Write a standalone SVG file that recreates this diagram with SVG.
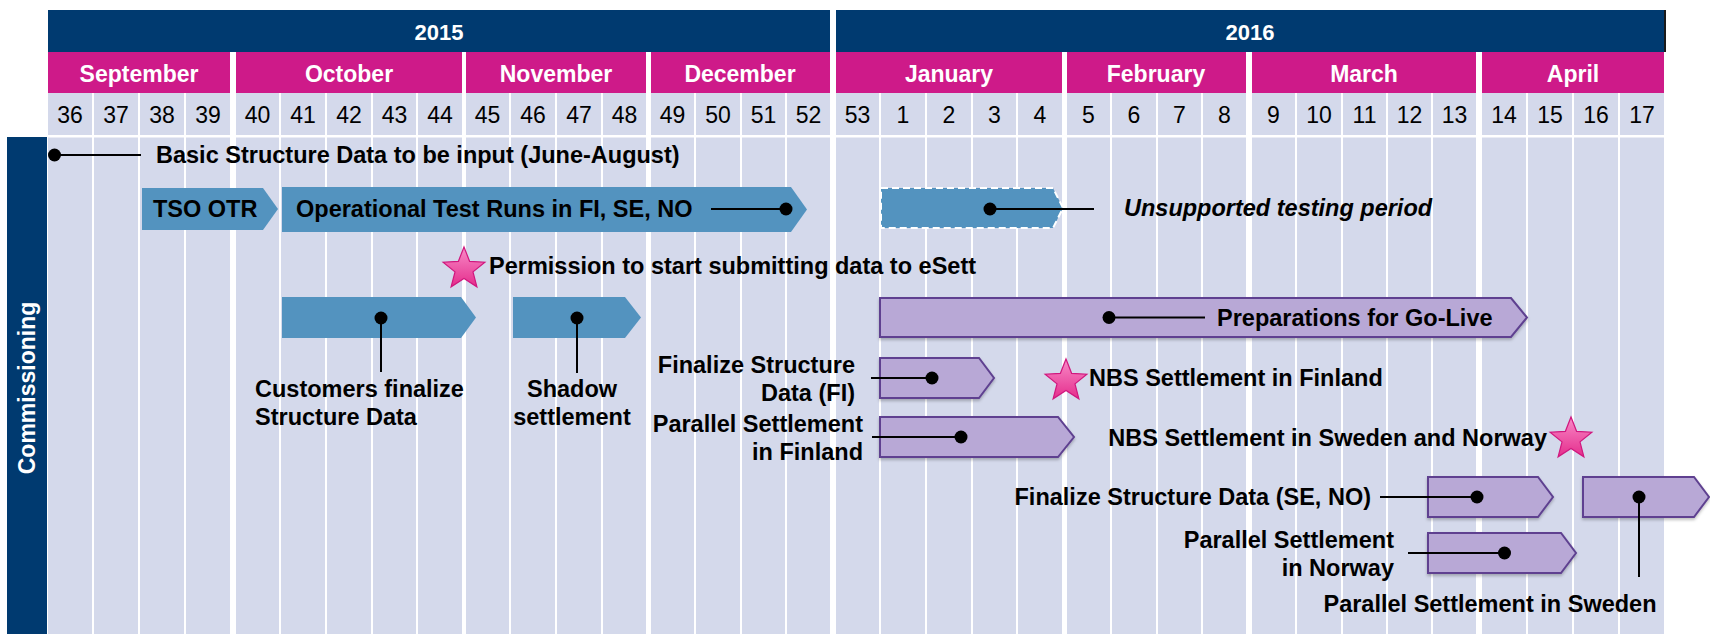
<svg xmlns="http://www.w3.org/2000/svg" width="1710" height="634" viewBox="0 0 1710 634">
<style>
.yr{fill:#003A70}
.mo{fill:#CE1A89}
.col{fill:#D4D9EB}
.yt{font-family:"Liberation Sans",Arial,sans-serif;font-weight:bold;font-size:22px;fill:#fff;text-anchor:middle}
.mt{font-family:"Liberation Sans",Arial,sans-serif;font-weight:bold;font-size:23px;fill:#fff;text-anchor:middle}
.wt{font-family:"Liberation Sans",Arial,sans-serif;font-size:23px;fill:#000;text-anchor:middle}
.lb{font-family:"Liberation Sans",Arial,sans-serif;font-weight:bold;font-size:23.5px;fill:#000}
.end{text-anchor:end}
.mid{text-anchor:middle}
.blue{fill:#5393BF}
.purple{fill:#B8A8D6;stroke:#5E4190;stroke-width:2;filter:url(#sh)}
.ln{stroke:#000;stroke-width:2;fill:none}
.dot{fill:#000}
</style>
<defs>
<linearGradient id="sg" x1="0" y1="0" x2="0" y2="1">
<stop offset="0" stop-color="#F88BC8"/>
<stop offset="1" stop-color="#E52D8C"/>
</linearGradient>
<path id="star" d="M0,-22 L5.6,-7.7 L20.9,-6.8 L9,2.9 L12.9,17.8 L0,9.5 L-12.9,17.8 L-9,2.9 L-20.9,-6.8 L-5.6,-7.7 Z" fill="url(#sg)" stroke="#D0177E" stroke-width="1.2"/>
<filter id="sh" x="-5%" y="-20%" width="110%" height="150%">
<feDropShadow dx="0" dy="2" stdDeviation="1.5" flood-color="#000" flood-opacity="0.25"/>
</filter>
</defs>
<rect width="1710" height="634" fill="#fff"/>
<g id="header">
<rect class="yr" x="48" y="10" width="782" height="42"/>
<rect class="yr" x="836" y="10" width="828" height="42"/>
<rect x="1664" y="10" width="2" height="42" fill="#1a1a1a"/>
<text class="yt" x="439" y="40">2015</text>
<text class="yt" x="1250" y="40">2016</text>
<rect class="mo" x="48" y="52" width="182" height="41"/>
<rect class="mo" x="236" y="52" width="226" height="41"/>
<rect class="mo" x="466" y="52" width="180" height="41"/>
<rect class="mo" x="651" y="52" width="179" height="41"/>
<rect class="mo" x="836" y="52" width="226" height="41"/>
<rect class="mo" x="1067" y="52" width="179" height="41"/>
<rect class="mo" x="1252" y="52" width="224" height="41"/>
<rect class="mo" x="1482" y="52" width="182" height="41"/>
<text class="mt" x="139" y="82">September</text>
<text class="mt" x="349" y="82">October</text>
<text class="mt" x="556" y="82">November</text>
<text class="mt" x="740" y="82">December</text>
<text class="mt" x="949" y="82">January</text>
<text class="mt" x="1156" y="82">February</text>
<text class="mt" x="1364" y="82">March</text>
<text class="mt" x="1573" y="82">April</text>
</g>
<g id="grid">
<rect class="col" x="48" y="93" width="44" height="541"/>
<rect class="col" x="94" y="93" width="44" height="541"/>
<rect class="col" x="140" y="93" width="44" height="541"/>
<rect class="col" x="186" y="93" width="44" height="541"/>
<rect class="col" x="236" y="93" width="43" height="541"/>
<rect class="col" x="281" y="93" width="44" height="541"/>
<rect class="col" x="327" y="93" width="44" height="541"/>
<rect class="col" x="373" y="93" width="43" height="541"/>
<rect class="col" x="418" y="93" width="44" height="541"/>
<rect class="col" x="466" y="93" width="43" height="541"/>
<rect class="col" x="511" y="93" width="44" height="541"/>
<rect class="col" x="557" y="93" width="44" height="541"/>
<rect class="col" x="603" y="93" width="43" height="541"/>
<rect class="col" x="651" y="93" width="43" height="541"/>
<rect class="col" x="696" y="93" width="44" height="541"/>
<rect class="col" x="742" y="93" width="43" height="541"/>
<rect class="col" x="787" y="93" width="43" height="541"/>
<rect class="col" x="836" y="93" width="43" height="541"/>
<rect class="col" x="881" y="93" width="44" height="541"/>
<rect class="col" x="927" y="93" width="44" height="541"/>
<rect class="col" x="973" y="93" width="43" height="541"/>
<rect class="col" x="1018" y="93" width="44" height="541"/>
<rect class="col" x="1067" y="93" width="43" height="541"/>
<rect class="col" x="1112" y="93" width="44" height="541"/>
<rect class="col" x="1158" y="93" width="43" height="541"/>
<rect class="col" x="1203" y="93" width="43" height="541"/>
<rect class="col" x="1252" y="93" width="43" height="541"/>
<rect class="col" x="1297" y="93" width="44" height="541"/>
<rect class="col" x="1343" y="93" width="43" height="541"/>
<rect class="col" x="1388" y="93" width="43" height="541"/>
<rect class="col" x="1433" y="93" width="43" height="541"/>
<rect class="col" x="1482" y="93" width="44" height="541"/>
<rect class="col" x="1528" y="93" width="44" height="541"/>
<rect class="col" x="1574" y="93" width="44" height="541"/>
<rect class="col" x="1620" y="93" width="44" height="541"/>
<rect x="48" y="135" width="1616" height="2.5" fill="#fff"/>
<text class="wt" x="70" y="123">36</text>
<text class="wt" x="116" y="123">37</text>
<text class="wt" x="162" y="123">38</text>
<text class="wt" x="208" y="123">39</text>
<text class="wt" x="257.5" y="123">40</text>
<text class="wt" x="303" y="123">41</text>
<text class="wt" x="349" y="123">42</text>
<text class="wt" x="394.5" y="123">43</text>
<text class="wt" x="440" y="123">44</text>
<text class="wt" x="487.5" y="123">45</text>
<text class="wt" x="533" y="123">46</text>
<text class="wt" x="579" y="123">47</text>
<text class="wt" x="624.5" y="123">48</text>
<text class="wt" x="672.5" y="123">49</text>
<text class="wt" x="718" y="123">50</text>
<text class="wt" x="763.5" y="123">51</text>
<text class="wt" x="808.5" y="123">52</text>
<text class="wt" x="857.5" y="123">53</text>
<text class="wt" x="903" y="123">1</text>
<text class="wt" x="949" y="123">2</text>
<text class="wt" x="994.5" y="123">3</text>
<text class="wt" x="1040" y="123">4</text>
<text class="wt" x="1088.5" y="123">5</text>
<text class="wt" x="1134" y="123">6</text>
<text class="wt" x="1179.5" y="123">7</text>
<text class="wt" x="1224.5" y="123">8</text>
<text class="wt" x="1273.5" y="123">9</text>
<text class="wt" x="1319" y="123">10</text>
<text class="wt" x="1364.5" y="123">11</text>
<text class="wt" x="1409.5" y="123">12</text>
<text class="wt" x="1454.5" y="123">13</text>
<text class="wt" x="1504" y="123">14</text>
<text class="wt" x="1550" y="123">15</text>
<text class="wt" x="1596" y="123">16</text>
<text class="wt" x="1642" y="123">17</text>
</g>
<g id="commissioning">
<rect class="yr" x="7" y="137" width="40" height="497"/>
<text class="mt" transform="translate(35,388) rotate(-90)" x="0" y="0">Commissioning</text>
</g>
<g id="basic-structure">
<text class="lb" x="156" y="163">Basic Structure Data to be input (June-August)</text>
</g>
<g id="tso-otr">
<polygon class="blue" points="142,188 263,188 278,209 263,230 142,230"/>
<text class="lb" x="153" y="217">TSO OTR</text>
</g>
<g id="operational-test-runs">
<polygon class="blue" points="282,187 791,187 807,209.5 791,232 282,232"/>
<text class="lb" x="296" y="217">Operational Test Runs in FI, SE, NO</text>
</g>
<g id="unsupported-testing">
<polygon class="blue" points="881,188 1053,188 1063,208 1053,228 881,228" stroke="#fff" stroke-width="2" stroke-dasharray="7,4"/>
<text class="lb" x="1124" y="216" font-style="italic">Unsupported testing period</text>
</g>
<g id="permission">
<use href="#star" x="464" y="269"/>
<text class="lb" x="489" y="274">Permission to start submitting data to eSett</text>
</g>
<g id="customers-finalize">
<polygon class="blue" points="282,297 461,297 476,317.5 461,338 282,338"/>
<text class="lb" x="255" y="397">Customers finalize</text>
<text class="lb" x="255" y="425">Structure Data</text>
</g>
<g id="shadow-settlement">
<polygon class="blue" points="513,297 625,297 641,317.5 625,338 513,338"/>
<text class="lb mid" x="572" y="397">Shadow</text>
<text class="lb mid" x="572" y="425">settlement</text>
</g>
<g id="preparations">
<polygon class="purple" points="880,298 1511,298 1527,317.5 1511,337 880,337"/>
<text class="lb" x="1217" y="326">Preparations for Go-Live</text>
</g>
<g id="finalize-fi">
<polygon class="purple" points="880,358 979,358 994,378 979,398 880,398"/>
<text class="lb end" x="855" y="373">Finalize Structure</text>
<text class="lb end" x="855" y="401">Data (FI)</text>
</g>
<g id="nbs-finland">
<use href="#star" x="1066" y="381"/>
<text class="lb" x="1089" y="386">NBS Settlement in Finland</text>
</g>
<g id="parallel-fi">
<polygon class="purple" points="880,417 1058,417 1074,437 1058,457 880,457"/>
<text class="lb end" x="863" y="432">Parallel Settlement</text>
<text class="lb end" x="863" y="460">in Finland</text>
</g>
<g id="nbs-se-no">
<text class="lb end" x="1547" y="446">NBS Settlement in Sweden and Norway</text>
<use href="#star" x="1571" y="439"/>
</g>
<g id="finalize-se-no">
<polygon class="purple" points="1428,477 1538,477 1553,497 1538,517 1428,517"/>
<text class="lb end" x="1371" y="505">Finalize Structure Data (SE, NO)</text>
</g>
<g id="parallel-se">
<polygon class="purple" points="1583,477 1694,477 1709,497 1694,517 1583,517"/>
<text class="lb mid" x="1490" y="612">Parallel Settlement in Sweden</text>
</g>
<g id="parallel-no">
<polygon class="purple" points="1428,533 1561,533 1576,553 1561,573 1428,573"/>
<text class="lb end" x="1394" y="548">Parallel Settlement</text>
<text class="lb end" x="1394" y="576">in Norway</text>
</g>
<g id="connectors">
<line class="ln" x1="54.5" y1="155" x2="141" y2="155"/>
<circle class="dot" cx="54.5" cy="155" r="6.5"/>
<line class="ln" x1="711" y1="209" x2="786" y2="209"/>
<circle class="dot" cx="786" cy="209" r="6.5"/>
<line class="ln" x1="990" y1="209" x2="1094" y2="209"/>
<circle class="dot" cx="990" cy="209" r="6.5"/>
<line class="ln" x1="381" y1="318" x2="381" y2="372"/>
<circle class="dot" cx="381" cy="318" r="6.5"/>
<line class="ln" x1="577" y1="318" x2="577" y2="373"/>
<circle class="dot" cx="577" cy="318" r="6.5"/>
<line class="ln" x1="1109" y1="317.5" x2="1205" y2="317.5"/>
<circle class="dot" cx="1109" cy="317.5" r="6.5"/>
<line class="ln" x1="871" y1="378" x2="932" y2="378"/>
<circle class="dot" cx="932" cy="378" r="6.5"/>
<line class="ln" x1="872" y1="437" x2="961" y2="437"/>
<circle class="dot" cx="961" cy="437" r="6.5"/>
<line class="ln" x1="1380" y1="497" x2="1477" y2="497"/>
<circle class="dot" cx="1477" cy="497" r="6.5"/>
<line class="ln" x1="1639" y1="497" x2="1639" y2="577"/>
<circle class="dot" cx="1639" cy="497" r="6.5"/>
<line class="ln" x1="1408" y1="553" x2="1504.5" y2="553"/>
<circle class="dot" cx="1504.5" cy="553" r="6.5"/>
</g>
</svg>
